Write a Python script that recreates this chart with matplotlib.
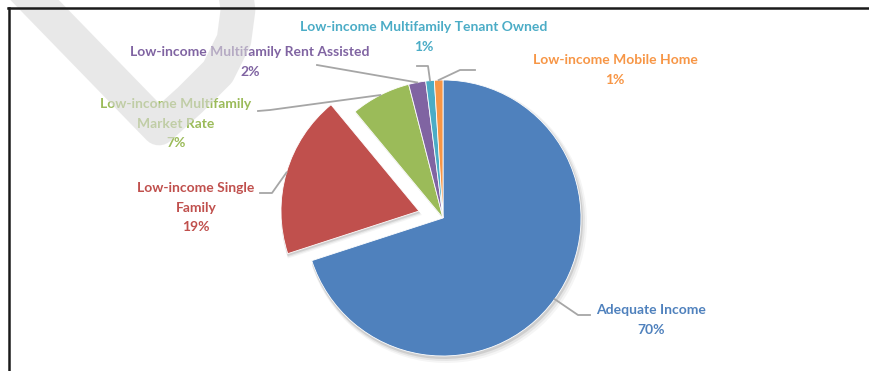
import numpy as np
import matplotlib.pyplot as plt
from matplotlib.patches import Wedge
from matplotlib.lines import Line2D

# ---------------------
# Data
# ---------------------
labels = ["Adequate Income",
          "Low-income Single\nFamily",
          "Low-income Multifamily\nMarket Rate",
          "Low-income Multifamily Rent Assisted",
          "Low-income Multifamily Tenant Owned",
          "Low-income Mobile Home"]
shares = [70, 19, 7, 2, 1, 1]
pct_labels = ["70%", "19%", "7%", "2%", "1%", "1%"]
colors = ["#4F81BD", "#C0504D", "#9BBB59", "#8064A2", "#4BACC6", "#F79646"]

# ---------------------
# Layout (pixel coords, y from top of image)
# ---------------------
W, H = 870, 371
cx, cy, R = 443, H - 218, 138
explode = [0, 25, 0, 0, 0, 0]
text_xy = [(651, 320), (196, 208), (176, 124), (250, 62), (424, 37), (615, 70)]
elbow_xy = [(578, 315), (272, 193), (270, 110), (317, 65), (428, 66), (460, 70)]
end_xy = [(590, 315), (260, 193), (258, 111), (317, 65), (417, 66), (475, 70)]

plt.rcParams['font.family'] = ['Lato', 'DejaVu Sans']

fig = plt.figure(figsize=(W / 100, H / 100), dpi=100)
ax = fig.add_axes([0, 0, 1, 1])

wedges, _ = ax.pie(shares, colors=colors, explode=explode, startangle=90,
                   counterclock=False, radius=R, center=(cx, cy),
                   wedgeprops=dict(edgecolor='white', linewidth=0.6))
ax.set_xlim(0, W)
ax.set_ylim(0, H)
ax.axis('off')

# soft shadow under the pie
for w in wedges:
    for dx, dy, dr, a in [(1, -2, 1, 0.10), (2, -3, 2, 0.06), (3, -4, 3, 0.04)]:
        ax.add_patch(Wedge((w.center[0] + dx, w.center[1] + dy), w.r + dr,
                           w.theta1, w.theta2, color='black', alpha=a,
                           lw=0, zorder=0))

# labels + leader lines
for w, lab, pct, col, t, e, en in zip(wedges, labels, pct_labels, colors,
                                      text_xy, elbow_xy, end_xy):
    mid = np.deg2rad((w.theta1 + w.theta2) / 2)
    x0 = w.center[0] + w.r * np.cos(mid)
    y0 = w.center[1] + w.r * np.sin(mid)
    ax.plot([x0, e[0], en[0]], [y0, H - e[1], H - en[1]],
            color='#a6a6a6', lw=1.3, zorder=3)
    ax.text(t[0], H - t[1], lab + "\n" + pct, color=col, fontsize=10,
            fontweight='bold', ha='center', va='center', linespacing=1.75,
            zorder=4)

# watermark stroke
wm = [(20, -15), (159, 128), (190, 100), (218, 72), (234, 40), (238, 10), (234, -20)]
ax.add_line(Line2D([p[0] for p in wm], [H - p[1] for p in wm], lw=25,
                   color='#dadada', alpha=0.6, solid_joinstyle='round',
                   zorder=10))

# frame lines
fig.add_artist(Line2D([8 / W, 1], [1 - 8 / H, 1 - 8 / H], color='#1a1a1a', lw=1.8))
fig.add_artist(Line2D([9.5 / W, 9.5 / W], [0, 1 - 8 / H], color='#1a1a1a', lw=1.8))

fig.savefig("out.png", dpi=100)
